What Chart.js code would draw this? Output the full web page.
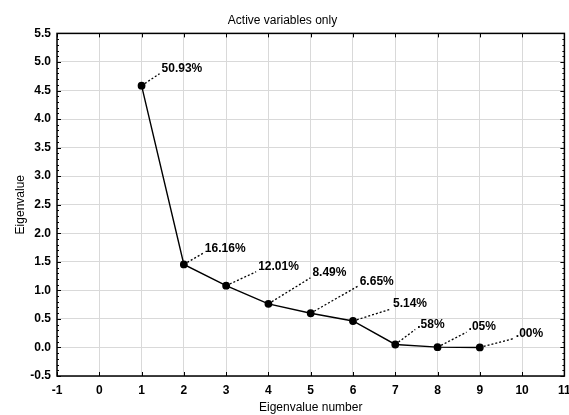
<!DOCTYPE html>
<html>
<head>
<meta charset="utf-8">
<script src="https://cdn.jsdelivr.net/npm/chart.js@4/dist/chart.umd.min.js"></script>
<style>
  html, body { margin: 0; padding: 0; background: #fff; }
  #wrap { width: 569px; height: 415px; }
</style>
</head>
<body>
<div id="wrap"><canvas id="scree"></canvas></div>
<script>
// eigenvalue number, eigenvalue, % of variance
const eigenNumbers = [1, 2, 3, 4, 5, 6, 7, 8, 9];
const eigenValues = [4.584, 1.454, 1.081, 0.764, 0.599, 0.463, 0.052, 0.005, 0.0];
const pctLabels = ["50.93%", "16.16%", "12.01%", "8.49%", "6.65%", "5.14%", ".58%", ".05%", ".00%"];

// where each % label sits relative to its point (px)
const labelOffsets = [[20, -17], [21, -16], [32, -19], [44, -31], [49, -32], [40, -17], [22, -20], [31, -20], [36, -14]];

const FONT = "'Liberation Sans', Arial, sans-serif";

const framePlugin = {
  id: "frame",
  afterDraw(chart) {
    const { ctx, chartArea: a, scales } = chart;
    const xs = scales.x, ys = scales.y;
    ctx.save();
    ctx.strokeStyle = "#000";
    ctx.lineWidth = 1.5;
    ctx.strokeRect(a.left, a.top, a.right - a.left, a.bottom - a.top);

    ctx.lineWidth = 1;
    ctx.beginPath();
    for (let v = -1; v <= 11; v++) {
      const px = Math.round(xs.getPixelForValue(v)) + 0.5;
      ctx.moveTo(px, a.bottom); ctx.lineTo(px, a.bottom - 4);
      ctx.moveTo(px, a.top); ctx.lineTo(px, a.top + 4);
    }
    for (let i = -5; i <= 55; i++) {
      const py = Math.round(ys.getPixelForValue(i / 10)) + 0.5;
      const len = i % 5 === 0 ? 4 : 2;
      ctx.moveTo(a.left, py); ctx.lineTo(a.left + len, py);
      ctx.moveTo(a.right, py); ctx.lineTo(a.right - len, py);
    }
    ctx.stroke();

    // dotted leaders and % labels
    const meta = chart.getDatasetMeta(0);
    ctx.setLineDash([2, 2]);
    ctx.lineWidth = 1.3;
    ctx.font = "bold 12px " + FONT;
    ctx.fillStyle = "#000";
    ctx.textBaseline = "middle";
    ctx.textAlign = "left";
    meta.data.forEach((pt, i) => {
      const [dx, dy] = labelOffsets[i];
      ctx.beginPath();
      ctx.moveTo(pt.x, pt.y);
      ctx.lineTo(pt.x + dx - 2, pt.y + dy + 5);
      ctx.stroke();
      ctx.fillText(pctLabels[i], pt.x + dx, pt.y + dy);
    });
    ctx.restore();
  },
};

new Chart(document.getElementById("scree"), {
  type: "scatter",
  data: {
    datasets: [
      {
        data: eigenNumbers.map((n, i) => ({ x: n, y: eigenValues[i] })),
        showLine: true,
        borderColor: "#000",
        borderWidth: 1.4,
        backgroundColor: "#000",
        pointRadius: 3.2,
        pointHoverRadius: 3.2,
      },
    ],
  },
  options: {
    responsive: true,
    maintainAspectRatio: false,
    animation: false,
    layout: { padding: { right: 4, bottom: 0 } },
    plugins: {
      legend: { display: false },
      tooltip: { enabled: false },
      title: {
        display: true,
        text: "Active variables only",
        color: "#000",
        font: { family: FONT, size: 12, weight: "normal" },
        padding: { top: 13, bottom: 6 },
      },
    },
    scales: {
      x: {
        type: "linear",
        min: -1,
        max: 11,
        afterFit(scale) {
          scale.height = 39;
          scale.paddingLeft = 0;
          scale.paddingRight = 0;
        },
        ticks: {
          stepSize: 1,
          color: "#000",
          padding: 7,
          font: { family: FONT, size: 12, weight: "bold" },
        },
        grid: { color: "#d9d9d9", drawTicks: false },
        border: { display: false },
        title: {
          display: true,
          text: "Eigenvalue number",
          color: "#000",
          font: { family: FONT, size: 12 },
          padding: { top: 0, bottom: 0 },
        },
      },
      y: {
        min: -0.5,
        max: 5.5,
        afterFit(scale) { scale.width = 57; },
        ticks: {
          stepSize: 0.5,
          color: "#000",
          padding: 6,
          font: { family: FONT, size: 12, weight: "bold" },
          callback: (v) => v.toFixed(1),
        },
        grid: { color: "#d9d9d9", drawTicks: false },
        border: { display: false },
        title: {
          display: true,
          text: "Eigenvalue",
          color: "#000",
          font: { family: FONT, size: 12 },
          padding: { top: 13, bottom: 0 },
        },
      },
    },
  },
  plugins: [framePlugin],
});
</script>
</body>
</html>
